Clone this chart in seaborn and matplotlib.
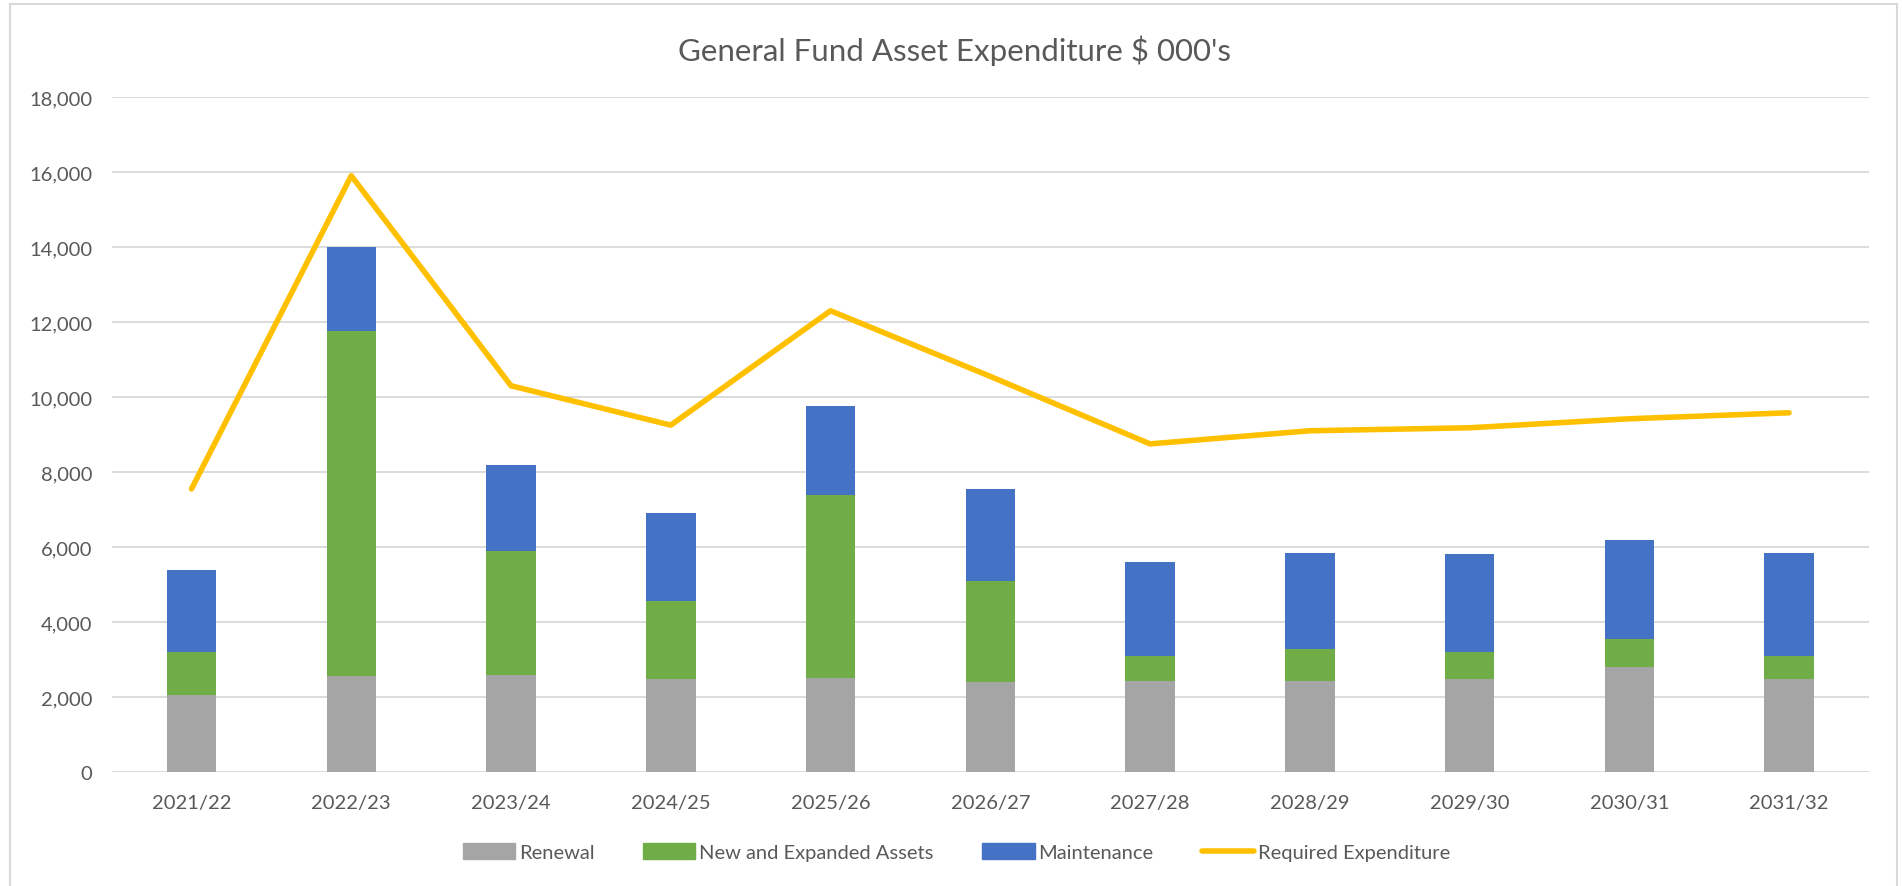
import numpy as np
import pandas as pd
import seaborn as sns
import matplotlib.pyplot as plt
from matplotlib.patches import Patch, Rectangle
from matplotlib.lines import Line2D
from matplotlib.ticker import FuncFormatter

#------------------------------------------------------------------------------------------------------------------------
# DATA  ($ 000's)
years = ['2021/22', '2022/23', '2023/24', '2024/25', '2025/26', '2026/27',
         '2027/28', '2028/29', '2029/30', '2030/31', '2031/32']
renewal = [2050, 2550, 2600, 2480, 2520, 2400, 2420, 2430, 2480, 2800, 2480]
new_expanded = [1150, 9200, 3300, 2070, 4860, 2700, 680, 850, 720, 750, 620]
maintenance = [2200, 2250, 2300, 2350, 2370, 2450, 2500, 2570, 2620, 2650, 2750]
required = [7550, 15900, 10300, 9250, 12300, 10550, 8750, 9100, 9180, 9420, 9580]

series_names = ['Renewal', 'New and Expanded Assets', 'Maintenance', 'Required Expenditure']
colors = ['#A5A5A5', '#70AD47', '#4472C4', '#FFC000']

#------------------------------------------------------------------------------------------------------------------------
# PLOT
sns.set_theme(style='white')
plt.rcParams['font.family'] = ['Lato', 'DejaVu Sans']
text_col = '#595959'

df = pd.DataFrame({'year': years, 'renewal': renewal, 'new': new_expanded,
                   'maint': maintenance, 'required': required})
df['lvl1'] = df['renewal']
df['lvl2'] = df['lvl1'] + df['new']
df['lvl3'] = df['lvl2'] + df['maint']

fig = plt.figure(figsize=(19.02, 8.87), dpi=100)
ax = fig.add_axes([0.0587, 0.1285, 0.9239, 0.761])

# stacked bars drawn from the top total down
for col, c in zip(['lvl3', 'lvl2', 'lvl1'], [colors[2], colors[1], colors[0]]):
    sns.barplot(data=df, x='year', y=col, color=c, width=0.31, saturation=1,
                linewidth=0, ax=ax, zorder=2)

sns.lineplot(data=df, x='year', y='required', color=colors[3], linewidth=4,
             ax=ax, zorder=3, sort=False)

ax.set_ylim(0, 18000)
ax.set_xlim(-0.5, len(years) - 0.5)
ax.set_yticks(np.arange(0, 18001, 2000))
ax.yaxis.set_major_formatter(FuncFormatter(lambda v, p: f'{int(v):,}'))
ax.grid(axis='y', color='#D9D9D9', linewidth=1.3, zorder=0)
ax.set_axisbelow(True)
for s in ax.spines.values():
    s.set_visible(False)
ax.set_xlabel('')
ax.set_ylabel('')
ax.tick_params(axis='y', length=0, pad=14, labelsize=14.5, labelcolor=text_col)
ax.tick_params(axis='x', length=0, pad=16, labelsize=14.5, labelcolor=text_col)

fig.suptitle("General Fund Asset Expenditure $ 000's", x=0.502, y=0.943,
             fontsize=22.5, color=text_col, va='center')

handles = [Patch(color=colors[0]), Patch(color=colors[1]), Patch(color=colors[2]),
           Line2D([0], [0], color=colors[3], linewidth=4)]
fig.legend(handles, series_names, loc='center', bbox_to_anchor=(0.503, 0.038),
           ncol=4, frameon=False, fontsize=14.5, labelcolor=text_col,
           handlelength=2.6, handleheight=0.8, handletextpad=0.2, columnspacing=2.4)

# thin chart border like the spreadsheet chart area
fig.patches.append(Rectangle((10 / 1902, -0.05), 1887 / 1902, 1.05 - 5 / 887,
                             transform=fig.transFigure, fill=False,
                             edgecolor='#D9D9D9', linewidth=1.5))

fig.savefig('out.png', dpi=100)
